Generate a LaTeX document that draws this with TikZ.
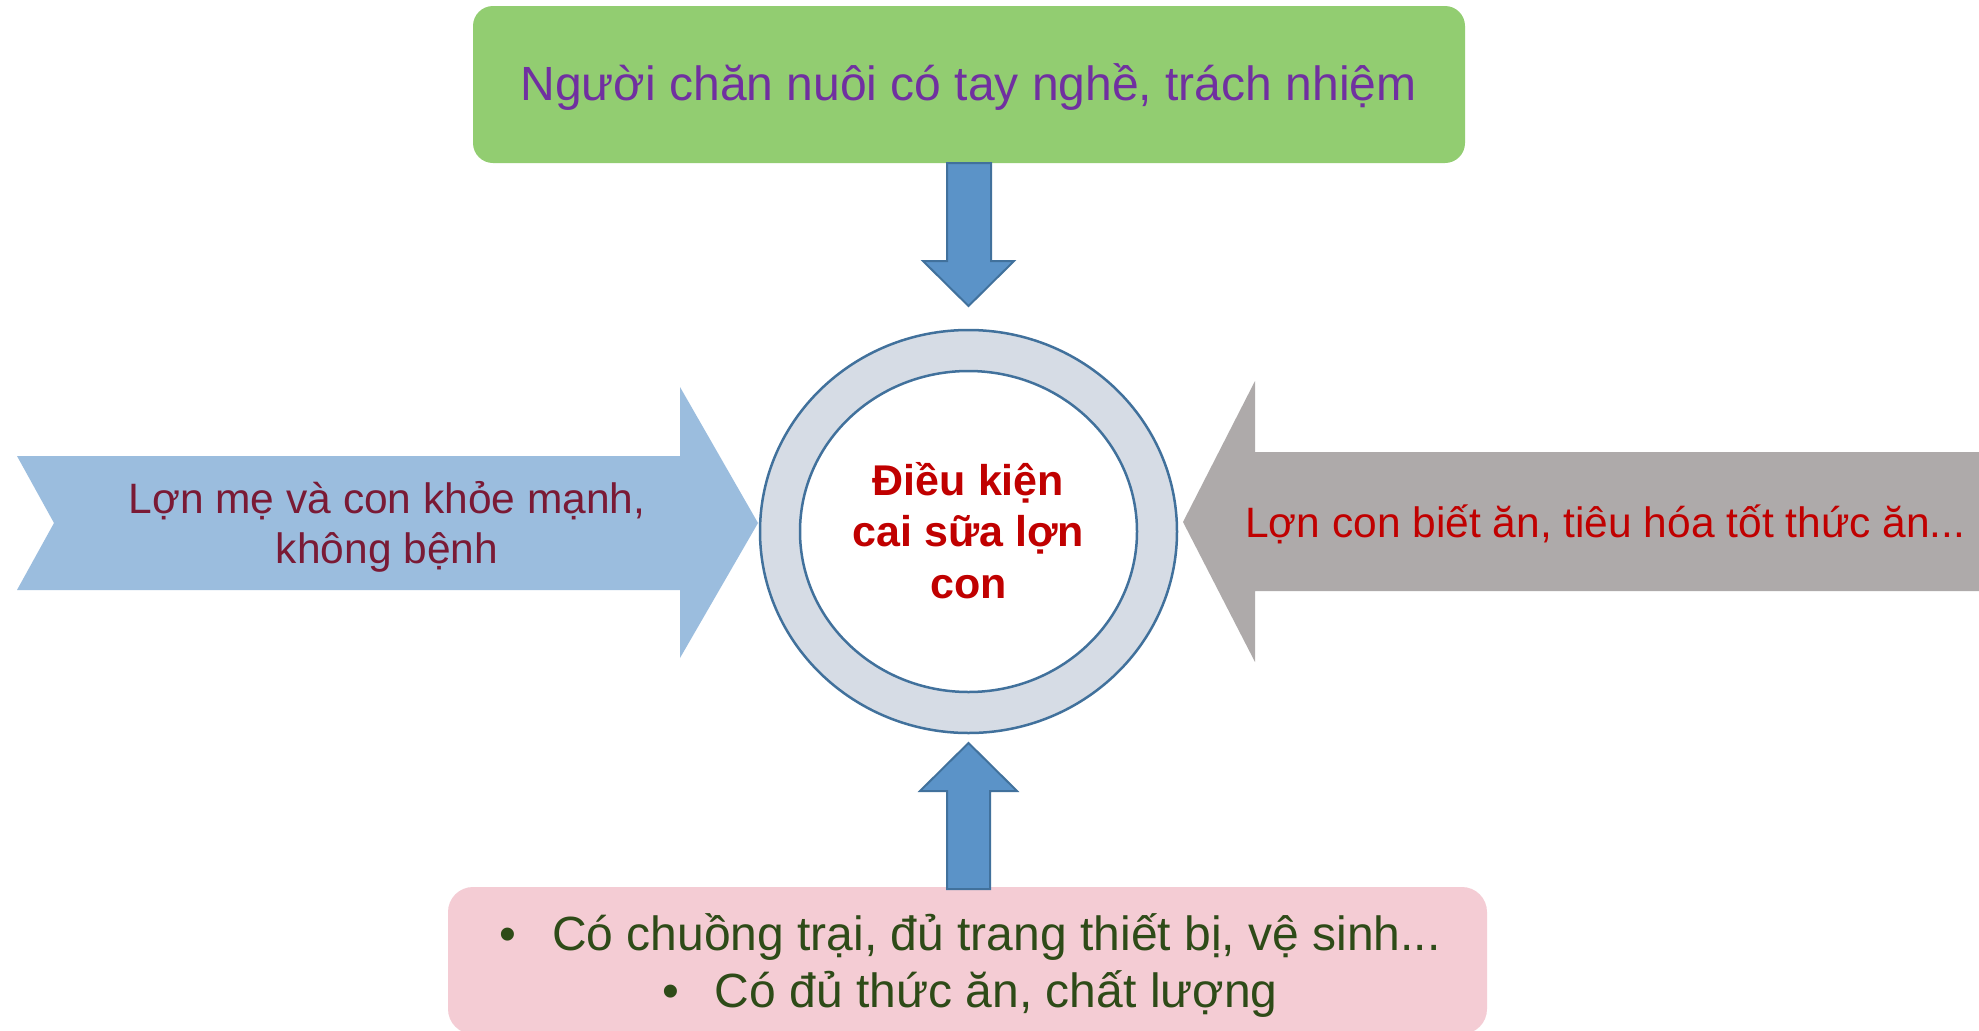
\documentclass[tikz,border=0pt]{standalone}
\usepackage{fontspec}
\setmainfont{Liberation Sans}
\definecolor{topfill}{HTML}{92CD71}
\definecolor{toptext}{HTML}{7030A0}
\definecolor{leftfill}{HTML}{9BBDDE}
\definecolor{lefttext}{HTML}{7A1A35}
\definecolor{rightfill}{HTML}{AEAAAA}
\definecolor{redtext}{HTML}{C00000}
\definecolor{donutfill}{HTML}{D6DCE5}
\definecolor{donutline}{HTML}{41719C}
\definecolor{bluefill}{HTML}{5B93C8}
\definecolor{pinkfill}{HTML}{F4CCD4}
\definecolor{greentext}{HTML}{2E4B18}
\tikzset{
  blockarrow/.style={fill=bluefill, draw=donutline, line width=2pt, line join=miter},
  ringline/.style={draw=donutline, line width=2.5pt},
  label/.style={inner sep=0pt, anchor=base}
}
\begin{document}
\begin{tikzpicture}[x=1pt,y=-1pt]
\useasboundingbox (0,0) rectangle (1979,1031);
\fill[white] (0,0) rectangle (1979,1031);
% top box
\fill[topfill, rounded corners=20pt] (473,6) rectangle (1465,163);
\node[label, text=toptext, font=\fontsize{48}{57}\selectfont] (toptxt) at (968.5,100) {Người chăn nuôi có tay nghề, trách nhiệm};
% top arrow
\coordinate (toptip) at (968.5,306);
\filldraw[blockarrow] (947,163) -- (947,261) -- (923,261) -- (toptip) -- (1014,261) -- (991,261) -- (991,163) -- cycle;
% left arrow
\coordinate (lefttip) at (758,523);
\fill[leftfill] (17,456) -- (680,456) -- (680,387) -- (lefttip) -- (680,658) -- (680,590) -- (17,590) -- (54,523) -- cycle;
\node[label, text=lefttext, font=\fontsize{42.5}{50}\selectfont] (lefttxt) at (387,513) {\begin{tabular}[t]{@{}c@{}}Lợn mẹ và con khỏe mạnh,\\không bệnh\end{tabular}};
% right arrow
\coordinate (righttip) at (1183,522);
\fill[rightfill] (1985,452) -- (1255,452) -- (1255,381) -- (righttip) -- (1255,662) -- (1255,591) -- (1985,591) -- cycle;
\node[label, anchor=base west, text=redtext, font=\fontsize{42.5}{50}\selectfont] (righttxt) at (1245,537) {Lợn con biết ăn, tiêu hóa tốt thức ăn...};
% donut
\fill[donutfill, even odd rule] (968.5,531.5) ellipse [x radius=208.5, y radius=201.5] (968.5,531.5) ellipse [x radius=168.5, y radius=160.5];
\draw[ringline] (968.5,531.5) ellipse [x radius=208.5, y radius=201.5];
\draw[ringline] (968.5,531.5) ellipse [x radius=168.5, y radius=160.5];
\node[label, text=redtext, font=\bfseries\fontsize{43}{51.5}\selectfont] (center) at (968.5,495) {\begin{tabular}[t]{@{}c@{}}Điều kiện\\cai sữa lợn\\con\end{tabular}};
% bottom box
\fill[pinkfill, rounded corners=25pt] (448,887) rectangle (1487,1034);
\node[label, text=greentext, font=\fontsize{48}{57}\selectfont] (bottomtxt) at (970,950) {\begin{tabular}[t]{@{}c@{}}•\hspace{36pt}Có chuồng trại, đủ trang thiết bị, vệ sinh...\\•\hspace{36pt}Có đủ thức ăn, chất lượng\end{tabular}};
% bottom arrow
\coordinate (bottip) at (968.5,743);
\filldraw[blockarrow] (947,889) -- (947,791) -- (920,791) -- (bottip) -- (1017,791) -- (990,791) -- (990,889) -- cycle;
\end{tikzpicture}
\end{document}
